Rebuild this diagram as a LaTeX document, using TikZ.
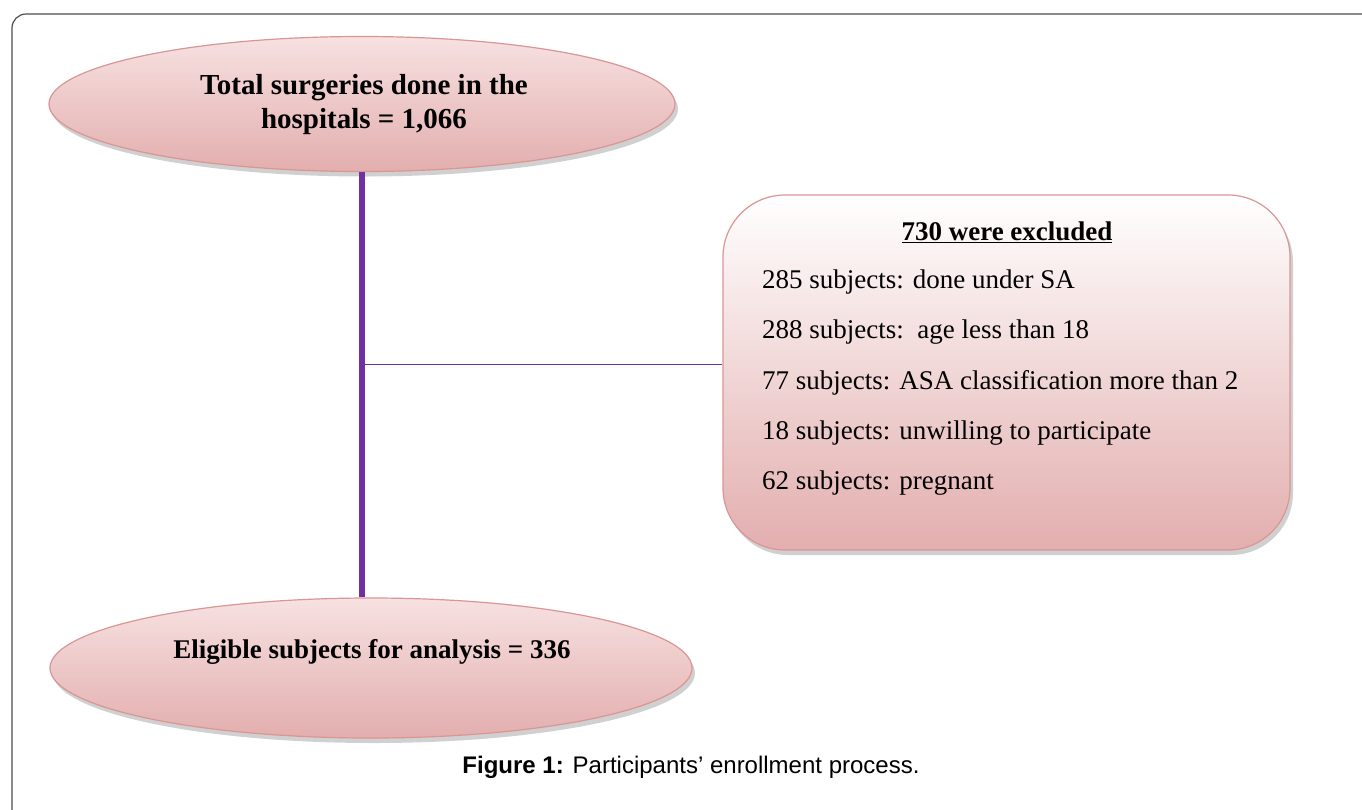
\documentclass[tikz,border=0pt]{standalone}
\usepackage{fontspec}
\setmainfont{Liberation Serif}
\newfontfamily\capfont{Liberation Sans}
\usetikzlibrary{shapes.geometric,shadows,calc}
\definecolor{edgepink}{HTML}{D99694}
\definecolor{toppink}{HTML}{F7E1E1}
\definecolor{botpink}{HTML}{E3AEAE}
\definecolor{linepurple}{HTML}{7030A0}
\definecolor{framegray}{HTML}{4D4D4D}
\tikzset{
  oval/.style={ellipse, draw=edgepink, line width=1.2pt, top color=toppink, bottom color=botpink,
    drop shadow={shadow xshift=3pt, shadow yshift=-5pt, opacity=0.3, fill=black!60}},
  exbox/.style={rectangle, rounded corners=62pt, draw=edgepink, line width=1.2pt, top color=white, bottom color=botpink,
    drop shadow={shadow xshift=3pt, shadow yshift=-5pt, opacity=0.3, fill=black!60}},
  boldtxt/.style={font=\fontsize{27}{32}\selectfont\bfseries, anchor=base, inner sep=0pt},
  bigbold/.style={font=\fontsize{29}{34}\selectfont\bfseries, anchor=base, inner sep=0pt},
  itemtxt/.style={font=\fontsize{27}{32}\selectfont, anchor=base west, inner sep=0pt},
}
\begin{document}
\begin{tikzpicture}[x=1pt,y=-1pt]
\useasboundingbox (0,0) rectangle (1362,809);
\fill[white] (0,0) rectangle (1362,809);
\draw[framegray, line width=1.2pt, rounded corners=14pt] (12,840) -- (12,14) -- (1400,14);

\node[oval, minimum width=626pt, minimum height=135pt] (top) at (362,104) {};
\node[oval, minimum width=642pt, minimum height=140pt] (bot) at (371,668) {};
\node[exbox, minimum width=567pt, minimum height=355pt] (box) at (1006.5,372.5) {};

\node[bigbold] (t1) at (364,94) {Total surgeries done in the};
\node[bigbold] (t2) at (364,128) {hospitals = 1,066};
\node[boldtxt] (b1) at (372,658) {Eligible subjects for analysis = 336};

\node[boldtxt] (ht) at (1007,240) {\underline{730 were excluded}};
\node[itemtxt] (i1) at (762,288) {285 subjects: done under SA};
\node[itemtxt] (i2) at (762,338) {288 subjects:\ \ age less than 18};
\node[itemtxt] (i3) at (762,389) {77 subjects: ASA classification more than 2};
\node[itemtxt] (i4) at (762,439) {18 subjects: unwilling to participate};
\node[itemtxt] (i5) at (762,489) {62 subjects: pregnant};

\coordinate (j) at ($(top.south |- box.west)+(0,-8)$);
\draw[linepurple, line width=1.2pt] (j) -- (j -| box.west);
\draw[linepurple, line width=5.5pt] (top.south) -- (top.south |- bot.north);

\node[anchor=base, inner sep=0pt, font=\capfont\fontsize{24}{28}\selectfont] (cap) at (691,773)
  {\textbf{Figure 1:} Participants’ enrollment process.};
\end{tikzpicture}
\end{document}
